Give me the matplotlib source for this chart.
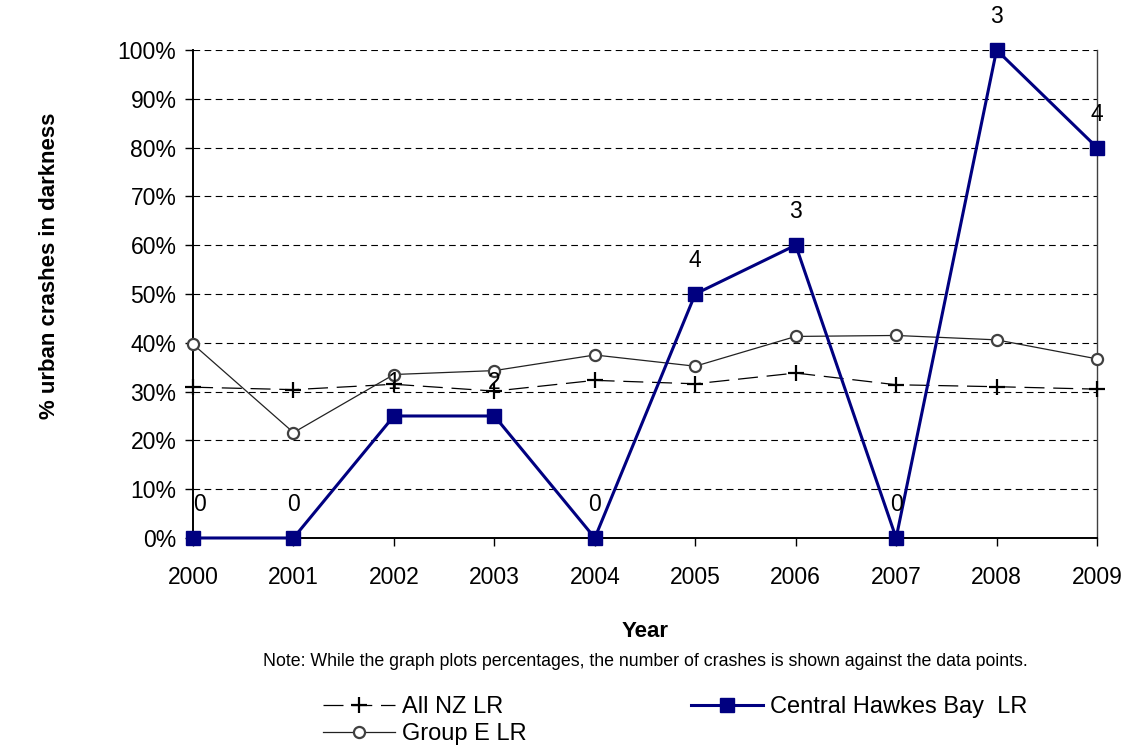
import matplotlib
matplotlib.use("Agg")
import matplotlib.pyplot as plt
from matplotlib.ticker import FuncFormatter, MultipleLocator

plt.rcParams['font.family'] = ['Liberation Sans', 'DejaVu Sans']

years = [2000, 2001, 2002, 2003, 2004, 2005, 2006, 2007, 2008, 2009]
all_nz = [30.9, 30.4, 31.5, 30.1, 32.3, 31.6, 33.8, 31.4, 31.0, 30.5]
group_e = [39.7, 21.6, 33.5, 34.3, 37.5, 35.2, 41.3, 41.5, 40.6, 36.7]
chb = [0, 0, 25, 25, 0, 50, 60, 0, 100, 80]
chb_counts = ["0", "0", "1", "2", "0", "4", "3", "0", "3", "4"]

fig = plt.figure(figsize=(11.27, 7.47), dpi=100)
ax = fig.add_axes([0.1713, 0.2798, 0.8021, 0.6533])

navy = '#000080'
l1, = ax.plot(years, all_nz, color='black', lw=0.9, dashes=(16, 7),
              marker='+', ms=11, mew=1.6, mec='black', label='All NZ LR', zorder=3, clip_on=False)
l2, = ax.plot(years, group_e, color='#222222', lw=0.9,
              marker='o', ms=8, mfc='white', mec='#404040', mew=1.6, label='Group E LR', zorder=3, clip_on=False)
l3, = ax.plot(years, chb, color=navy, lw=2.2, marker='s', ms=9.5,
              mfc=navy, mec=navy, label='Central Hawkes Bay  LR', zorder=4, clip_on=False)

for x, y, t in zip(years, chb, chb_counts):
    ax.annotate(t, (x, y), xytext=(5 if x == 2000 else 0, 24), textcoords='offset points',
                ha='center', va='center', fontsize=16.5, color='black', zorder=5)

ax.set_xlim(2000, 2009)
ax.set_ylim(0, 100)
ax.yaxis.set_major_locator(MultipleLocator(10))
ax.yaxis.set_major_formatter(FuncFormatter(lambda v, p: f"{int(round(v))}%"))
ax.set_xticks(years)
ax.set_xticklabels([str(y) for y in years])
ax.tick_params(axis='both', labelsize=16.5, direction='out', length=6, width=1, color='black')
ax.tick_params(axis='x', pad=14)
ax.tick_params(axis='y', pad=6)

ax.grid(axis='y', color='black', linestyle=(0, (6, 4)), linewidth=0.8)
ax.set_axisbelow(True)

ax.spines['top'].set_visible(False)
ax.spines['right'].set_color('#404040')
ax.spines['right'].set_linewidth(1.0)
ax.spines['left'].set_linewidth(1.4)
ax.spines['bottom'].set_linewidth(1.4)
for s in ax.spines.values():
    s.set_zorder(2)

ax.set_ylabel('% urban crashes in darkness', fontsize=16, fontweight='bold')
ax.yaxis.set_label_coords(-0.147, 0.557)

fig.text(0.5723, 0.155, 'Year', ha='center', va='center', fontsize=16, fontweight='bold')
fig.text(0.5723, 0.115, 'Note: While the graph plots percentages, the number of crashes is shown against the data points.',
         ha='center', va='center', fontsize=12.8)

leg = fig.legend(handles=[l1, l2, l3], loc='center left', bbox_to_anchor=(323 / 1127, 0.035),
                 ncol=2, frameon=False, fontsize=17, handlelength=3.05, columnspacing=6.95,
                 handletextpad=0.3, labelspacing=0.2, borderpad=0, borderaxespad=0)

fig.savefig('out.png', dpi=100)
